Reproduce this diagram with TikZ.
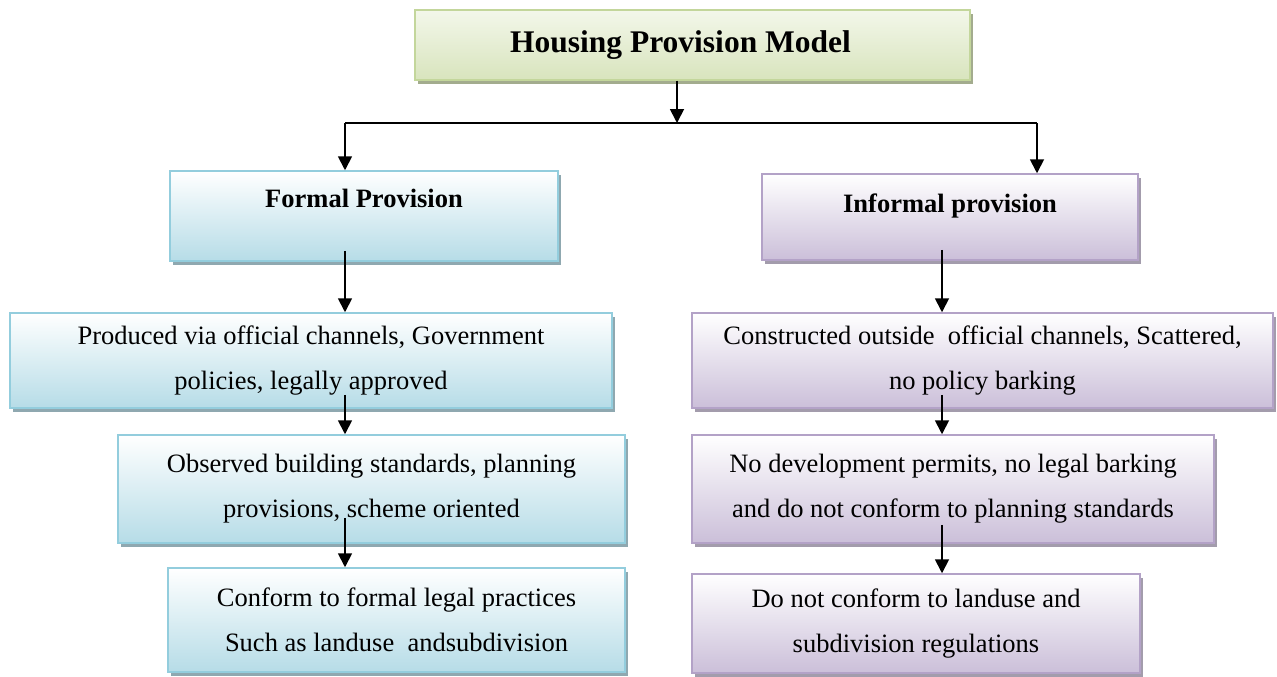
\documentclass[tikz,border=0pt]{standalone}
\usepackage{fontspec}
\setmainfont{Liberation Serif}
\usetikzlibrary{arrows.meta,shadows}
\definecolor{fborder}{HTML}{93CDDD}
\definecolor{fbottom}{HTML}{B6DCE7}
\definecolor{fshadow}{HTML}{8FA8B0}
\definecolor{iborder}{HTML}{B3A2C7}
\definecolor{ibottom}{HTML}{CBBFD9}
\definecolor{ishadow}{HTML}{A39CAC}
\definecolor{tborder}{HTML}{C3D69B}
\definecolor{ttop}{HTML}{F3F7EA}
\definecolor{tbottom}{HTML}{D8E4BD}
\definecolor{tshadow}{HTML}{A3AC8E}
\begin{document}
\begin{tikzpicture}
[x=1pt,y=-1pt,
box/.style={rectangle,inner sep=0pt,line width=1.5pt,align=center,
  font=\fontsize{26.5}{45}\selectfont},
formalbox/.style={box,draw=fborder,top color=white,bottom color=fbottom,
  drop shadow={shadow xshift=3pt,shadow yshift=-4pt,fill=fshadow,opacity=1}},
informalbox/.style={box,draw=iborder,top color=white,bottom color=ibottom,
  drop shadow={shadow xshift=3pt,shadow yshift=-4pt,fill=ishadow,opacity=1}},
titlebox/.style={box,draw=tborder,top color=ttop,bottom color=tbottom,
  font=\fontsize{31.5}{36}\selectfont\bfseries,
  drop shadow={shadow xshift=3pt,shadow yshift=-4pt,fill=tshadow,opacity=1}},
arr/.style={line width=1.8pt,-{Triangle[width=14pt,length=14pt]}}]
\useasboundingbox (0,0) rectangle (1277,677);
\node[titlebox,minimum width=555pt,minimum height=70pt] (title) at (692.5,45) {\hspace*{-24pt}Housing Provision Model};
\node[formalbox,minimum width=388pt,text height=36pt,text depth=54pt,font=\fontsize{26.5}{30}\selectfont\bfseries] (formal) at (364,216) {Formal Provision};
\node[informalbox,minimum width=376pt,text height=38pt,text depth=48pt,font=\fontsize{26.5}{30}\selectfont\bfseries] (informal) at (950,217) {Informal provision};
\node[formalbox,minimum width=602pt,minimum height=95pt] (f1) at (311,360.5) {Produced via official channels, Government\\policies, legally approved};
\node[formalbox,minimum width=507pt,minimum height=108pt] (f2) at (371.5,489) {Observed building standards, planning\\provisions, scheme oriented};
\node[formalbox,minimum width=457pt,minimum height=104pt] (f3) at (396.5,620) {Conform to formal legal practices\\Such as landuse\ \ andsubdivision};
\node[informalbox,minimum width=581pt,minimum height=95pt] (i1) at (982.5,360.5) {Constructed outside\ \ official channels, Scattered,\\no policy barking};
\node[informalbox,minimum width=522pt,minimum height=108pt] (i2) at (953,489) {No development permits, no legal barking\\and do not conform to planning standards};
\node[informalbox,minimum width=448pt,minimum height=99pt] (i3) at (916,623.5) {Do not conform to landuse and\\subdivision regulations};
\coordinate (jt) at (677,123);
\coordinate (jl) at (345,123);
\coordinate (jr) at (1037,123);
\coordinate (ix) at (942,0);
\draw[arr] (title.south -| jt) -- (jt);
\draw[line width=1.8pt] (jl) -- (jr);
\draw[arr] (jl) -- (jl |- formal.north);
\draw[arr] (jr) -- (jr |- informal.north);
\draw[arr] ([yshift=11pt]formal.south -| jl) -- (jl |- f1.north);
\draw[arr] ([yshift=14pt]f1.south -| jl) -- (jl |- f2.north);
\draw[arr] ([yshift=26pt]f2.south -| jl) -- (jl |- f3.north);
\draw[arr] ([yshift=11pt]informal.south -| ix) -- (ix |- i1.north);
\draw[arr] ([yshift=14pt]i1.south -| ix) -- (ix |- i2.north);
\draw[arr] ([yshift=19pt]i2.south -| ix) -- (ix |- i3.north);
\end{tikzpicture}
\end{document}
